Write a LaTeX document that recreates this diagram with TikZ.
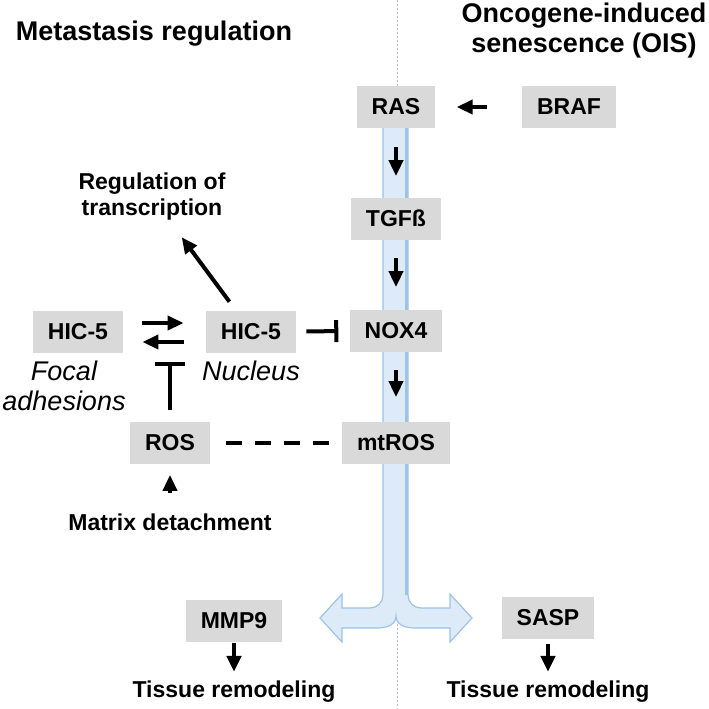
\documentclass[tikz,border=0pt]{standalone}
\usepackage{fontspec}
\setmainfont{Liberation Sans}
\usepackage{tikz}
\usetikzlibrary{arrows.meta}

\definecolor{boxgray}{RGB}{217,217,217}
\definecolor{bandfill}{RGB}{221,234,247}
\definecolor{bandline}{RGB}{157,195,230}
\definecolor{sepgray}{RGB}{190,190,190}

\begin{document}
\begin{tikzpicture}[x=0.5pt, y=-0.5pt,
  gene/.style={fill=boxgray, minimum height=21pt, inner xsep=7.5pt, inner ysep=0pt, font=\fontsize{11.5}{13}\selectfont\bfseries},
  lbl/.style={inner sep=0pt, align=center, font=\fontsize{11.5}{13}\selectfont\bfseries},
  title/.style={inner sep=0pt, align=center, font=\fontsize{13.5}{15}\selectfont\bfseries},
  place/.style={inner sep=0pt, align=center, font=\fontsize{13.5}{15}\selectfont\itshape},
  arr/.style={line width=2pt, -{Triangle[length=8pt, width=7pt]}},
  inh/.style={line width=2pt, -{Bar[width=#1]}}, inh/.default=11pt]
\useasboundingbox (0,0) rectangle (709,709);

% Divider and pathway band
\draw[sepgray, line width=0.5pt, dash pattern=on 1pt off 1pt] (397,0) -- (397,709);
\filldraw[fill=bandfill, draw=bandline, line width=0.6pt] (383,110) -- (383,595)
  .. controls (383,602.2) and (377.2,608) .. (370,608) -- (342,608) -- (342,594) -- (320,618)
  -- (342,642) -- (342,628) -- (378,628) .. controls (388,628) and (396,624) .. (396,616)
  .. controls (396,624) and (404,628) .. (414,628) -- (450,628) -- (450,642) -- (472,618)
  -- (450,594) -- (450,608) -- (421,608) .. controls (413.8,608) and (408,602.2) .. (408,595)
  -- (408,110) -- cycle;
\draw[bandline, line width=1.2pt] (406.5,110) -- (406.5,595);

% Titles
\node[title, anchor=base] (metas) at (154,40) {Metastasis regulation};
\node[title] (ois) at (584,31) {Oncogene-induced\\senescence (OIS)};

% OIS pathway
\node[gene] (ras) at (396,107) {RAS};
\node[gene] (braf) at (569,107) {BRAF};
\node[gene] (tgf) at (396,218.5) {TGFß};
\node[gene] (nox) at (396,330.5) {NOX4};
\node[gene] (mtros) at (396,442.5) {mtROS};
\node[gene] (sasp) at (548,618) {SASP};

% Metastasis side
\node[gene] (hicf) at (78,332) {HIC-5};
\node[gene] (hicn) at (251,332) {HIC-5};
\node[gene] (ros) at (170,442.5) {ROS};
\node[gene] (mmp) at (234,620.5) {MMP9};
\node[place] (focal) at (64,386) {Focal\\adhesions};
\node[place, anchor=base] (nucleus) at (251,380) {Nucleus};
\node[lbl] (reg) at (152,197) {Regulation of\\transcription};
\node[lbl, anchor=base] (matrix) at (170,530) {Matrix detachment};
\node[lbl, anchor=base] (remodl) at (234,697) {Tissue remodeling};
\node[lbl, anchor=base] (remodr) at (548,697) {Tissue remodeling};
\coordinate (swap) at (170,362);

% Arrows
\draw[arr, shorten <=17.5pt, shorten >=10.5pt] (braf) -- (ras);
\draw[arr, shorten <=9.5pt, shorten >=10.5pt] (ras) -- (tgf);
\draw[arr, shorten <=9pt, shorten >=11pt] (tgf) -- (nox);
\draw[arr, shorten <=9pt, shorten >=12pt] (nox) -- (mtros);
\draw[arr, shorten <=9.5pt, shorten >=11pt] ([yshift=4.5pt]hicf.east) -- ([yshift=4.5pt]hicn.west);
\draw[arr, shorten <=11pt, shorten >=9.5pt] ([yshift=-5pt]hicn.west) -- ([yshift=-5pt]hicf.east);
\draw[arr, shorten <=5.5pt, shorten >=10pt] ([xshift=-7.5pt]hicn.north) -- (reg);
\draw[inh, shorten <=5pt, shorten >=5.5pt] (hicn) -- (nox);
\draw[inh=15pt, shorten <=5.5pt] (ros) -- (swap);
\draw[arr, shorten <=10pt, shorten >=5.5pt] (matrix) -- (ros);
\draw[line width=2pt, dash pattern=on 8pt off 6.5pt, shorten <=8pt, shorten >=4pt] (ros) -- (mtros);
\draw[arr, shorten <=0.5pt, shorten >=4pt] (mmp) -- (remodl);
\draw[arr, shorten <=2.5pt, shorten >=4pt] (sasp) -- (remodr);
\end{tikzpicture}
\end{document}
